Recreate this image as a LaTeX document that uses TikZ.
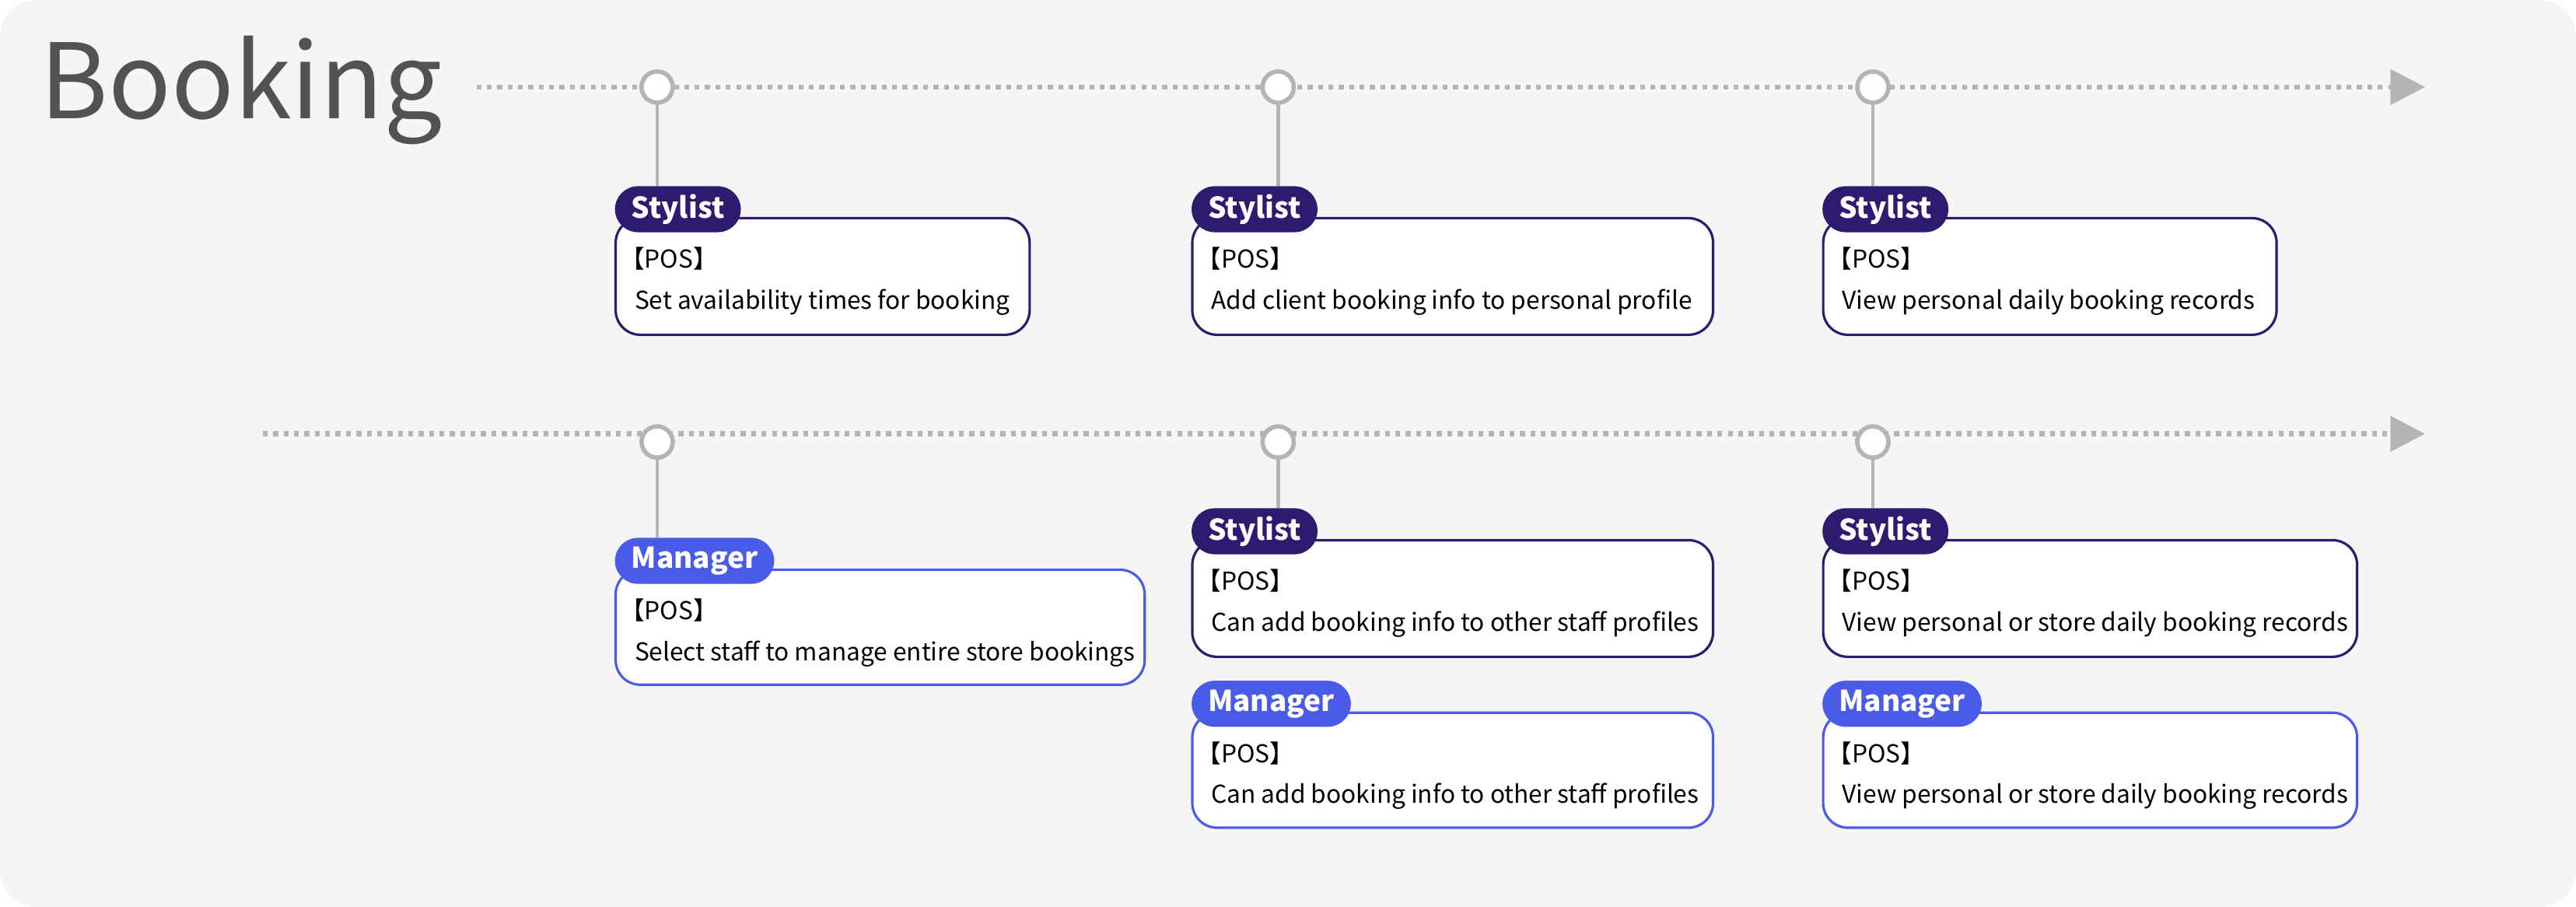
\documentclass[tikz,border=0pt]{standalone}
\usepackage{fontspec}
\setmainfont{Noto Sans CJK SC}
\usetikzlibrary{arrows.meta,positioning}
\definecolor{bgray}{HTML}{F5F5F6}
\definecolor{lgray}{HTML}{B4B4B4}
\definecolor{stylist}{HTML}{2E1A6E}
\definecolor{manager}{HTML}{4A5BE8}
\def\px{0.02112cm}
\tikzset{
  stop/.style={circle,draw=lgray,fill=white,line width=1.6pt,minimum size={19*\px},inner sep=0pt},
  line/.style={dotted,lgray,line width=1.8pt},
  stem/.style={lgray,line width=1.3pt},
  card/.style={draw=#1,fill=white,rounded corners={15*\px},line width=0.9pt,anchor=north west,inner sep=0pt},
  tag/.style={fill=#1,text=white,rounded corners={14*\px},anchor=north west,minimum height={28*\px},inner xsep={10*\px},inner ysep=0pt,font=\fontsize{10.5}{10.5}\selectfont\bfseries},
  txt/.style={anchor=base west,inner sep=0pt,font=\fontsize{9}{10}\selectfont},
}
% card: name, x, y(tag top), box width, box height, role colour, role, text
\newcommand{\card}[8]{%
  \node[card=#6,minimum width={#4*\px},minimum height={#5*\px}] (#1) at (#2,#3+19) {};
  \node[tag=#6] (#1t) at (#2,#3) {#7};
  \node[txt] (#1p) at ([shift={(3,31)}]#1.north west) {【POS】};
  \node[txt] (#1d) at ([shift={(12,56)}]#1.north west) {#8};
}
\begin{document}
\begin{tikzpicture}[x=\px,y=-\px]
% background
\fill[bgray,rounded corners={22*\px}] (0,0) rectangle (1568,552);

%-------------------------------------------- Title
\node[anchor=base west,inner sep=0pt,text=black!68,font=\fontsize{38}{38}\selectfont] (title) at (24,72) {Booking};

%-------------------------------------------- Timelines
\coordinate (l1s) at (290,53);  \coordinate (l1e) at (1456,53);
\coordinate (l2s) at (160,264); \coordinate (l2e) at (1456,264);
\draw[line] (l1s) -- (l1e);
\draw[line] (l2s) -- (l2e);
\fill[lgray] (1455,42) -- (1476,53) -- (1455,64) -- cycle;
\fill[lgray] (1455,253) -- (1476,264) -- (1455,275) -- cycle;

% stops
\foreach \n/\x in {a/400,b/778,c/1140}{
  \node[stop] (s1\n) at (\x,53) {};
  \node[stop] (s2\n) at (\x,269) {};
}

%-------------------------------------------- Row 1
\card{r1a}{374}{113}{252}{71}{stylist}{Stylist}{Set availability times for booking}
\card{r1b}{725}{113}{317}{71}{stylist}{Stylist}{Add client booking info to personal profile}
\card{r1c}{1109}{113}{276}{71}{stylist}{Stylist}{View personal daily booking records}

%-------------------------------------------- Row 2
\card{r2a}{374}{327}{322}{70}{manager}{Manager}{Select staff to manage entire store bookings}
\card{r2b}{725}{309}{317}{71}{stylist}{Stylist}{Can add booking info to other staff profiles}
\card{r2c}{1109}{309}{325}{71}{stylist}{Stylist}{View personal or store daily booking records}
\card{r2d}{725}{414}{317}{70}{manager}{Manager}{Can add booking info to other staff profiles}
\card{r2e}{1109}{414}{325}{70}{manager}{Manager}{View personal or store daily booking records}

% stems
\foreach \s/\t in {s1a/r1a,s1b/r1b,s1c/r1c,s2a/r2a,s2b/r2b,s2c/r2c}
  \draw[stem] (\s) -- (\s |- \t t.north);
\end{tikzpicture}
\end{document}
